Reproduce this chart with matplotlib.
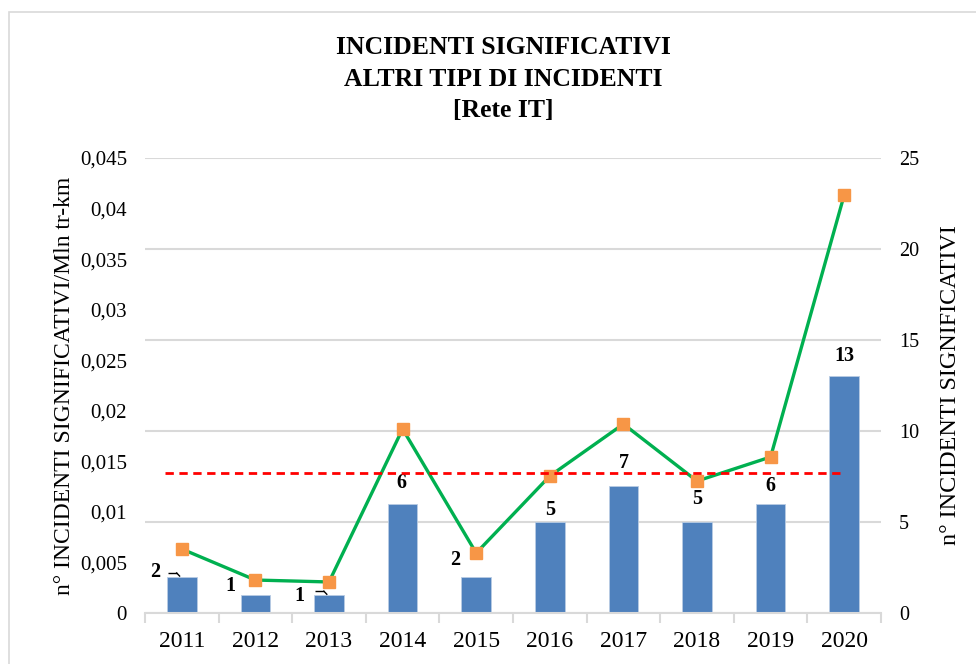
import matplotlib
matplotlib.use("Agg")
import matplotlib.pyplot as plt
from matplotlib.patches import Rectangle
from matplotlib.ticker import FixedLocator, FuncFormatter

plt.rcParams['font.family'] = ['Liberation Serif', 'DejaVu Serif']

years = ["2011", "2012", "2013", "2014", "2015", "2016", "2017", "2018", "2019", "2020"]
counts = [2, 1, 1, 6, 2, 5, 7, 5, 6, 13]
rate = [0.00633, 0.00326, 0.00307, 0.0182, 0.00593, 0.01355, 0.01869, 0.01305, 0.01543, 0.04134]
mean_rate = 0.01388
left_ticks = [0, 0.005, 0.01, 0.015, 0.02, 0.025, 0.03, 0.035, 0.04, 0.045]
right_ticks = [0, 5, 10, 15, 20, 25]
title_lines = ["INCIDENTI SIGNIFICATIVI", "ALTRI TIPI DI INCIDENTI", "[Rete IT]"]

# label centre offsets (points) from bar tops
label_offsets = [(-19, 3.6), (-18, 6), (-21, -1), (-1, 15), (-15, 12), (0, 8.6), (0, 16.5), (0, 16.5), (0, 13), (0, 14.4)]

W, H = 976, 664
fig = plt.figure(figsize=(W / 100, H / 100), dpi=100)
fig.patches.append(Rectangle((9 / W, -0.1), 1.2, (H - 12) / H + 0.1, transform=fig.transFigure,
                             fill=False, edgecolor='#D9D9D9', linewidth=1.2))

ax_left = 145 / W
ax_right = 881 / W
ax_bottom = (H - 613) / H
ax_top = (H - 158) / H
axL = fig.add_axes([ax_left, ax_bottom, ax_right - ax_left, ax_top - ax_bottom])
axR = axL.twinx()

x = list(range(len(years)))

axR.set_zorder(0)
axL.set_zorder(1)
axL.patch.set_visible(False)

axR.bar(x, counts, width=0.4, color='#4F81BD', edgecolor='#B8CCE4', linewidth=0.6, zorder=2)
axR.set_ylim(0, 25)
axR.set_yticks(right_ticks)
axR.yaxis.grid(True, color='#D9D9D9', linewidth=1.5, zorder=0)
axR.set_axisbelow(True)
axR.tick_params(axis='y', length=0, labelsize=14.5, pad=13)
axR.set_ylabel("n° INCIDENTI SIGNIFICATIVI", fontsize=17.3, va='center')
axR.yaxis.set_label_coords(1.094, 0.5)

for i, (c, off) in enumerate(zip(counts, label_offsets)):
    axR.annotate(str(c), (x[i], c), xytext=off, textcoords='offset points',
                 ha='center', va='center', fontsize=14.5, fontweight='bold', color='black', zorder=5)

# small leader lines for 2011 and 2013
for i in (0, 2):
    c = counts[i]
    axR.plot([x[i] - 0.19, x[i] - 0.07], [c + 0.2, c + 0.2], color='black', lw=1.0,
             solid_capstyle='butt', zorder=5)
    axR.plot([x[i] - 0.07, x[i] - 0.03], [c + 0.2, c + 0.03], color='black', lw=1.0, zorder=5)

axL.plot(x, rate, color='#00B050', linewidth=2.4, marker='s', markersize=8,
         markerfacecolor='#F79646', markeredgecolor='#F79646', zorder=3)
axL.hlines(mean_rate, -0.23, 8.97, colors='#FF0000', linestyles=(0, (3, 2)), linewidth=2, zorder=4)
axL.set_ylim(0, 0.045)
axL.set_xlim(-0.5, len(years) - 0.5)
axL.yaxis.set_major_locator(FixedLocator(left_ticks))
axL.yaxis.set_major_formatter(FuncFormatter(lambda v, p: ('%g' % round(v, 4)).replace('.', ',')))
axL.tick_params(axis='y', length=0, labelsize=15, pad=13)
axL.set_ylabel("n° INCIDENTI SIGNIFICATIVI/Mln tr-km", fontsize=17, va='center')
axL.yaxis.set_label_coords(-0.110, 0.5)

axL.set_xticks(x)
axL.set_xticklabels(years)
axL.xaxis.set_minor_locator(FixedLocator([i - 0.5 for i in range(len(years) + 1)]))
axL.tick_params(axis='x', which='major', length=0, labelsize=17, pad=13)
axL.tick_params(axis='x', which='minor', length=7, color='#D9D9D9', width=1.5)

for a in (axL, axR):
    for s in ('top', 'left', 'right', 'bottom'):
        a.spines[s].set_visible(False)
axL.spines['bottom'].set_visible(True)
axL.spines['bottom'].set_color('#D9D9D9')
axL.spines['bottom'].set_linewidth(1.5)

for k, t in enumerate(title_lines):
    fig.text(503 / W, 1 - (48 + 31.5 * k) / H, t, ha='center', va='center',
             fontsize=18.5, fontweight='bold')

fig.savefig("out.png", dpi=100)
